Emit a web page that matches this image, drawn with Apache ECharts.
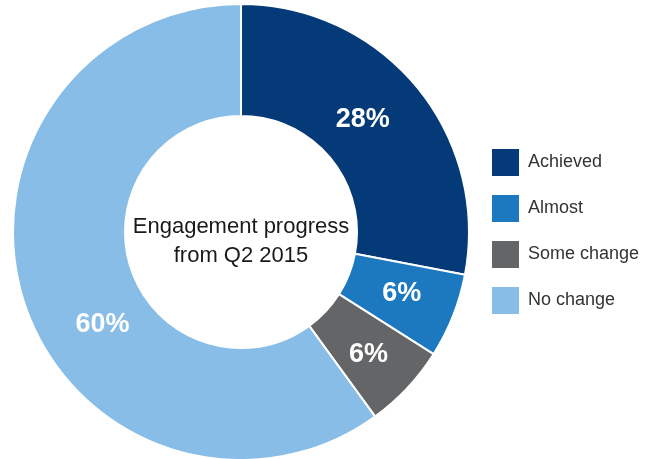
<!DOCTYPE html>
<html>
<head>
<meta charset="utf-8">
<script src="https://cdn.jsdelivr.net/npm/echarts@6/dist/echarts.min.js"></script>
<style>
  html, body { margin: 0; padding: 0; background: #fff; }
  #chart { width: 656px; height: 459px; }
</style>
</head>
<body>
<div id="chart"></div>
<script>
// chart data
const categories = ['Achieved', 'Almost', 'Some change', 'No change'];
const values = [28, 6, 6, 60];
const colors = ['#033a77', '#1c78bf', '#646567', '#87bde6'];
// small nudges so the % labels sit where the original put them
const labelNudge = [[-13, -1], [-2, -3], [0, 3], [28, 38]];

const chart = echarts.init(document.getElementById('chart'));

const option = {
  animation: false,
  legend: {
    orient: 'vertical',
    left: 492,
    top: 149,
    padding: 0,
    icon: 'rect',
    itemWidth: 27,
    itemHeight: 27,
    itemGap: 19,
    selectedMode: false,
    itemStyle: { borderWidth: 0 },
    textStyle: {
      fontFamily: 'Liberation Sans',
      fontSize: 18,
      color: '#333',
      padding: [0, 0, 0, 4]
    },
    data: categories
  },
  graphic: [{
    type: 'text',
    x: 241,
    y: 241,
    style: {
      text: 'Engagement progress\nfrom Q2 2015',
      align: 'center',
      verticalAlign: 'middle',
      font: '22px "Liberation Sans"',
      lineHeight: 29,
      fill: '#1a1a1a'
    }
  }],
  series: [{
    type: 'pie',
    center: [241, 232],
    radius: [116, 228],
    startAngle: 90,
    clockwise: true,
    silent: true,
    itemStyle: {
      borderColor: '#fff',
      borderWidth: 2
    },
    label: {
      show: true,
      position: 'inside',
      formatter: '{c}%',
      color: '#fff',
      fontFamily: 'Liberation Sans',
      fontWeight: 'bold',
      fontSize: 27
    },
    labelLayout: function (params) {
      const n = labelNudge[params.dataIndex] || [0, 0];
      return { dx: n[0], dy: n[1] };
    },
    labelLine: { show: false },
    data: categories.map((name, i) => ({
      name: name,
      value: values[i],
      itemStyle: { color: colors[i] }
    }))
  }]
};

chart.setOption(option);
</script>
</body>
</html>
